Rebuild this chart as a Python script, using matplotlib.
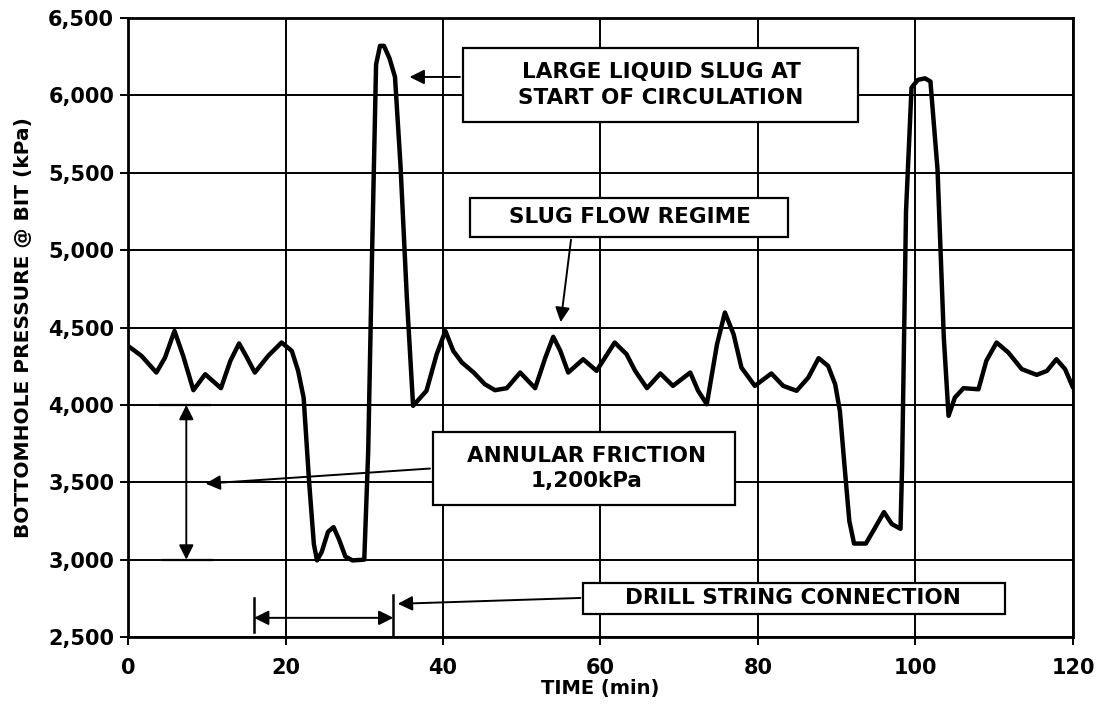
import matplotlib
matplotlib.use("Agg")
import matplotlib.pyplot as plt
from matplotlib.patches import Rectangle

# bottomhole pressure trace
time_min = [0, 1.7, 3.6, 4.7, 5.9, 7.0, 8.3, 9.8, 11.8, 13.0, 14.1, 15.1, 16.1,
            17.8, 19.5, 20.8, 21.6, 22.3, 23.0, 23.6, 24.0, 24.6, 25.4, 26.1,
            26.8, 27.6, 28.5, 30.0, 30.5, 31.0, 31.5, 32.0, 32.5, 33.2, 33.9,
            34.6, 35.4, 36.2, 37.9, 39.2, 40.3, 41.3, 42.4, 43.9, 45.3, 46.6,
            48.1, 49.8, 51.7, 53.0, 54.0, 54.9, 55.9, 57.8, 59.5, 61.8, 63.3,
            64.4, 65.9, 67.6, 69.2, 71.4, 72.4, 73.5, 74.8, 75.8, 76.9, 77.9,
            79.6, 81.7, 83.2, 84.9, 86.4, 87.7, 88.9, 89.8, 90.4, 91.0, 91.6,
            92.2, 93.7, 94.8, 96.0, 97.0, 98.1, 98.3, 98.8, 99.5, 100.3, 101.2,
            101.9, 102.8, 103.6, 104.2, 105.0, 106.1, 108.0, 109.0, 110.3,
            111.8, 113.5, 115.4, 116.7, 117.9, 119.0, 120]
pressure = [4381, 4317, 4209, 4306, 4478, 4317, 4095, 4198, 4108, 4285, 4397, 4306, 4209,
            4317, 4403, 4349, 4220, 4047, 3500, 3100, 2995, 3050, 3180, 3210,
            3130, 3020, 2995, 3000, 3700, 5000, 6200, 6320, 6320, 6240, 6120,
            5550, 4700, 3994, 4091, 4328, 4478, 4349, 4274, 4209, 4134, 4095,
            4108, 4209, 4108, 4306, 4440, 4349, 4209, 4295, 4220, 4403, 4328,
            4220, 4108, 4203, 4123, 4209, 4091, 4004, 4392, 4597, 4457, 4241,
            4123, 4203, 4123, 4091, 4177, 4302, 4252, 4134, 3961, 3600, 3250,
            3104, 3104, 3200, 3307, 3230, 3199, 3600, 5250, 6050, 6100, 6110,
            6090, 5522, 4435, 3929, 4047, 4108, 4101, 4285, 4403,
            4338, 4231, 4194, 4220, 4295, 4231, 4112]

x_ticks = [0, 20, 40, 60, 80, 100, 120]
y_ticks = [2500, 3000, 3500, 4000, 4500, 5000, 5500, 6000, 6500]
y_tick_labels = ["2,500", "3,000", "3,500", "4,000", "4,500", "5,000", "5,500", "6,000", "6,500"]

plt.rcParams['font.family'] = ['DejaVu Sans']

fig = plt.figure(figsize=(10.99, 7.06), dpi=100)
ax = fig.add_axes([0.1165, 0.0977, 0.8598, 0.8768])

ax.plot(time_min, pressure, color="black", lw=3.2, solid_joinstyle="round",
        solid_capstyle="round", zorder=4)

ax.set_xlim(0, 120)
ax.set_ylim(2500, 6500)
ax.set_xticks(x_ticks)
ax.set_yticks(y_ticks)
ax.set_yticklabels(y_tick_labels)
ax.grid(True, color="black", lw=1.4)
ax.set_axisbelow(True)
for s in ax.spines.values():
    s.set_linewidth(2)
ax.tick_params(length=6, width=1.4, labelsize=15)
ax.tick_params(axis="x", pad=9)
ax.tick_params(axis="y", pad=4)
for lab in ax.get_xticklabels() + ax.get_yticklabels():
    lab.set_fontweight("bold")
ax.set_xlabel("TIME (min)", fontsize=14, fontweight="bold", labelpad=1)
ax.set_ylabel("BOTTOMHOLE PRESSURE @ BIT (kPa)", fontsize=14.5, fontweight="bold", labelpad=11)

arrow = dict(arrowstyle="-|>", color="black", lw=1.4, mutation_scale=22)
txt = dict(ha="center", va="center", fontsize=15.5, fontweight="bold", linespacing=1.35, zorder=6)

# large liquid slug
ax.add_patch(Rectangle((42.5, 5828), 50.2, 478, facecolor="white", edgecolor="black", lw=1.6, zorder=5))
ax.text(67.7, 6067, "LARGE LIQUID SLUG AT\nSTART OF CIRCULATION", **txt)
ax.annotate("", xy=(35.4, 6119), xytext=(42.5, 6119), arrowprops=arrow, zorder=6)

# slug flow regime
ax.add_patch(Rectangle((43.4, 5085), 40.4, 252, facecolor="white", edgecolor="black", lw=1.6, zorder=5))
ax.text(63.7, 5214, "SLUG FLOW REGIME", **txt)
ax.annotate("", xy=(54.9, 4517), xytext=(56.3, 5085), arrowprops=arrow, zorder=6)

# annular friction
ax.add_patch(Rectangle((38.7, 3354), 38.4, 471, facecolor="white", edgecolor="black", lw=1.6, zorder=5))
ax.text(58.2, 3590, "ANNULAR FRICTION\n1,200kPa", **txt)
ax.annotate("", xy=(9.5, 3490), xytext=(38.7, 3590), arrowprops=arrow, zorder=6)
ax.plot([4.1, 10.4], [4000, 4000], color="black", lw=1.6, zorder=6)
ax.plot([4.5, 10.7], [3000, 3000], color="black", lw=1.6, zorder=6)
ax.annotate("", xy=(7.4, 4000), xytext=(7.4, 3000),
            arrowprops=dict(arrowstyle="<|-|>", color="black", lw=1.4, mutation_scale=22,
                            shrinkA=0, shrinkB=0), zorder=6)

# drill string connection
ax.add_patch(Rectangle((57.8, 2650), 53.6, 200, facecolor="white", edgecolor="black", lw=1.6, zorder=5))
ax.text(84.4, 2753, "DRILL STRING CONNECTION", **txt)
ax.annotate("", xy=(33.9, 2714), xytext=(57.8, 2753), arrowprops=arrow, zorder=6)
ax.plot([16.0, 16.0], [2535, 2750], color="black", lw=1.8, zorder=6)
ax.plot([33.7, 33.7], [2500, 2773], color="black", lw=1.8, zorder=6)
ax.annotate("", xy=(16.0, 2624), xytext=(33.7, 2624),
            arrowprops=dict(arrowstyle="<|-|>", color="black", lw=1.4, mutation_scale=22,
                            shrinkA=0, shrinkB=0), zorder=6)

fig.savefig("out.png", dpi=100)
